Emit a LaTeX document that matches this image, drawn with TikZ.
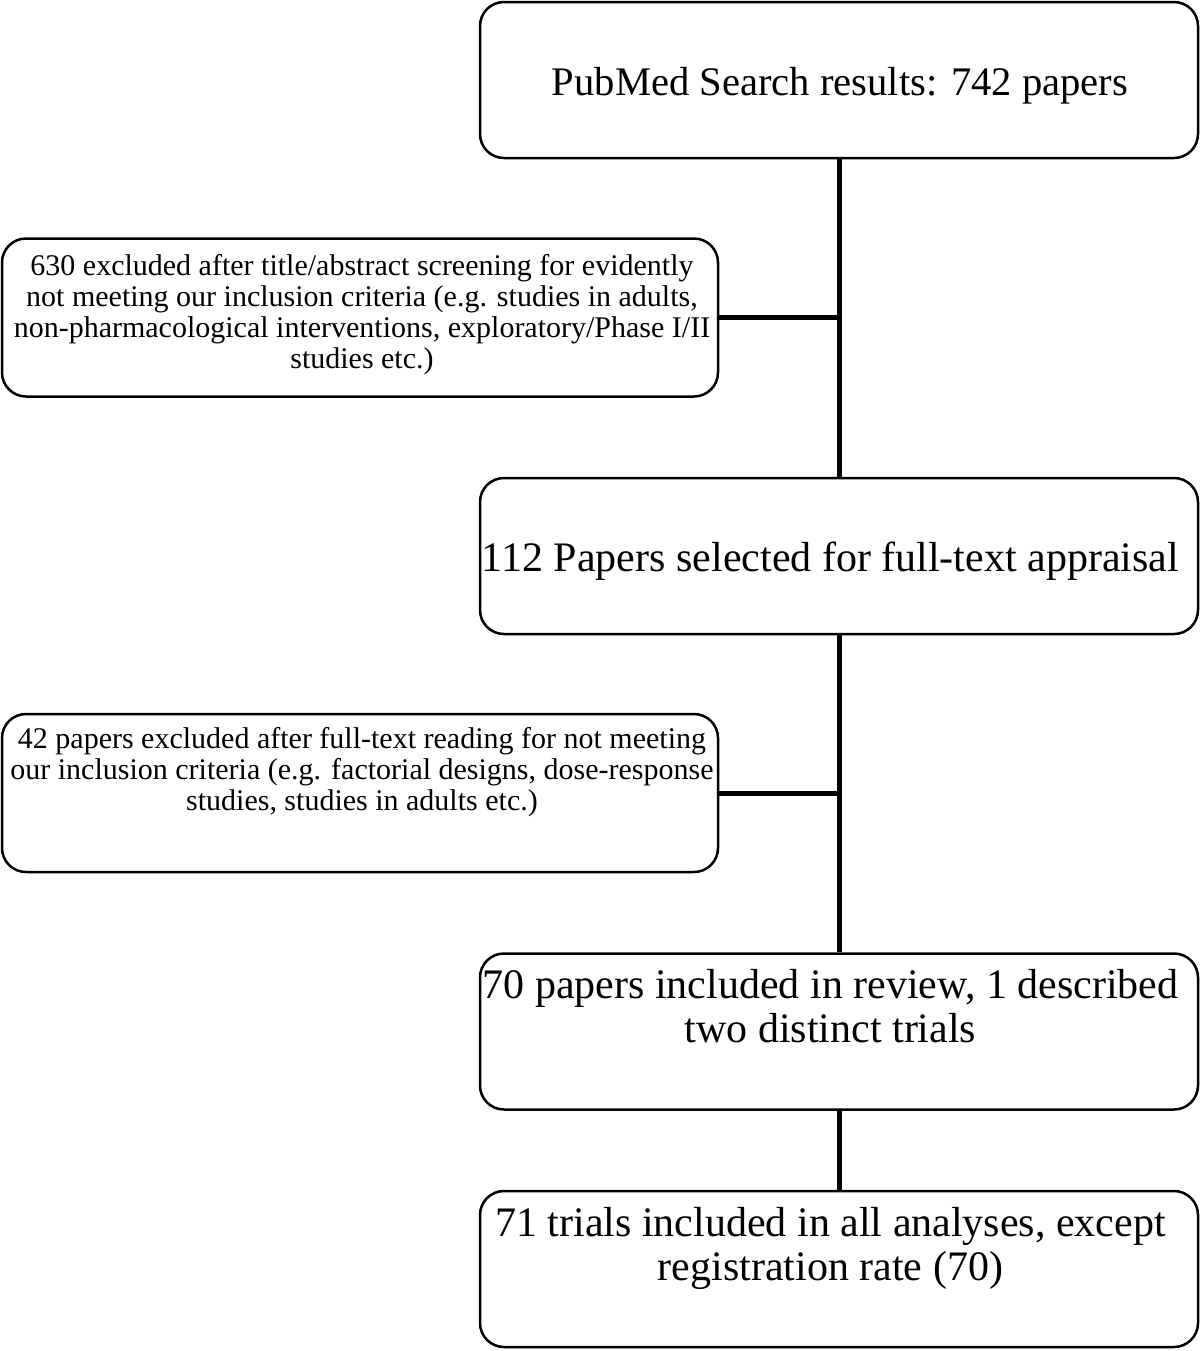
\documentclass[tikz,border=0pt]{standalone}
\usepackage{fontspec}
\setmainfont{Liberation Serif}
\begin{document}
\begin{tikzpicture}[x=0.5pt,y=-0.5pt,
  box/.style={draw, line width=1.25pt, rounded corners=12pt, inner sep=0pt},
  bigbox/.style={box, minimum width=359pt, minimum height=78pt},
  sidebox/.style={box, minimum width=358pt, minimum height=79pt},
  bigtxt/.style={font=\fontsize{21}{22.3}\selectfont, align=center, anchor=base, inner sep=0pt},
  smalltxt/.style={font=\fontsize{15}{15.6}\selectfont, align=center, anchor=base, inner sep=0pt},
  link/.style={line width=2.5pt}]
\useasboundingbox (0,0) rectangle (1200,1351);
% boxes
\node[bigbox] (b1) at (839,80) {};
\node[sidebox] (s1) at (360,317.5) {};
\node[bigbox] (b2) at (839,556) {};
\node[sidebox] (s2) at (360,793) {};
\node[bigbox] (b3) at (839,1031.5) {};
\node[bigbox] (b4) at (839,1269) {};
% texts (base anchor = baseline of last line)
\node[bigtxt,font=\fontsize{20.3}{22.3}\selectfont] (t1) at (840,95) {PubMed Search results: 742 papers};
\node[bigtxt] (t2) at (830.5,571) {112 Papers selected for full-text appraisal};
\node[bigtxt] (t3) at (830.5,1042.6) {70 papers included in review, 1 described\\two distinct trials};
\node[bigtxt] (t4) at (830.5,1280.6) {71 trials included in all analyses, except\\registration rate (70)};
\node[smalltxt] (u1) at (362,368.6) {630 excluded after title/abstract screening for evidently\\not meeting our inclusion criteria (e.g. studies in adults,\\non-pharmacological interventions, exploratory/Phase I/II\\studies etc.)};
\node[smalltxt] (u2) at (362,810.4) {42 papers excluded after full-text reading for not meeting\\our inclusion criteria (e.g. factorial designs, dose-response\\studies, studies in adults etc.)};
% connectors
\draw[link] (b1.south) -- (b2.north);
\draw[link] (b2.south) -- (b3.north);
\draw[link] (b3.south) -- (b4.north);
\coordinate (j1) at (b1.south |- s1.east);
\coordinate (j2) at (b2.south |- s2.east);
\draw[link] (s1.east) -- (j1);
\draw[link] (s2.east) -- (j2);
\end{tikzpicture}
\end{document}
